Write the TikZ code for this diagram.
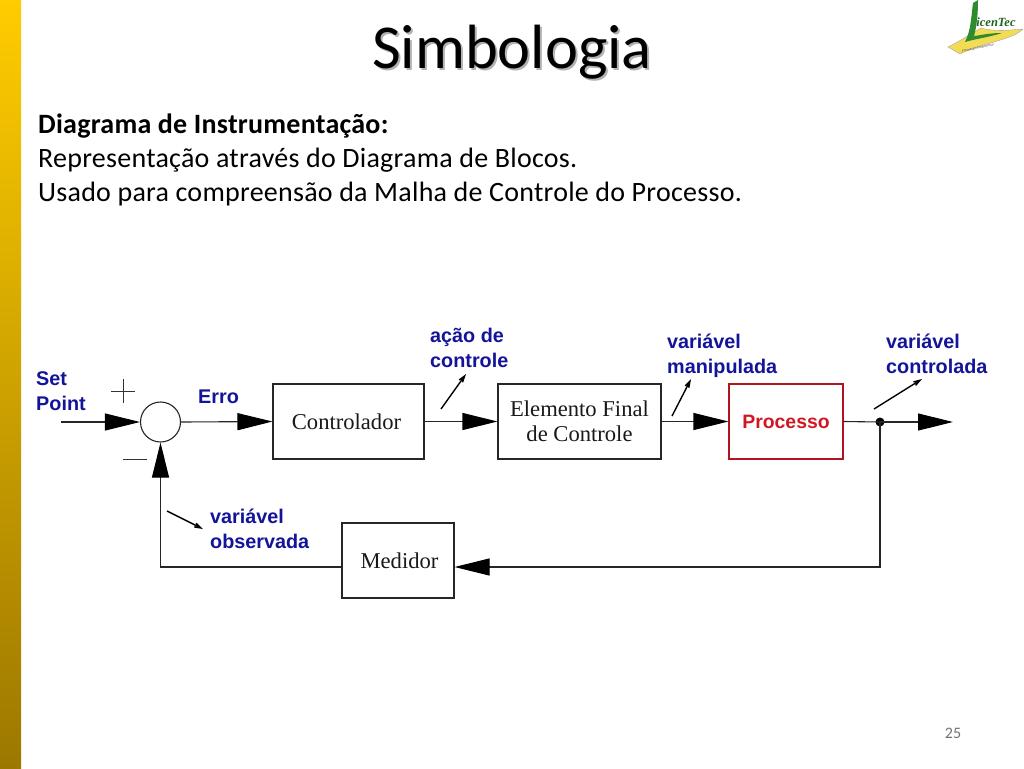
\documentclass[tikz,border=0pt]{standalone}
\usepackage{fontspec}
\setmainfont{Carlito}
\newfontfamily\bodyfont[LetterSpace=0.9]{Carlito}
\newfontfamily\lblfont{Liberation Sans}
\newfontfamily\boxfont{Liberation Serif}
\usetikzlibrary{arrows.meta,shadings,calc}
\definecolor{lblblue}{HTML}{14149A}
\definecolor{procred}{HTML}{D01825}
\definecolor{barTop}{HTML}{FFCC00}
\definecolor{barBot}{HTML}{9C7800}
\definecolor{logogreen}{HTML}{2E8B2E}
\definecolor{logoyellow}{HTML}{F3DC55}
\tikzset{
  blockbox/.style={draw=black!85,line width=1.1pt,minimum height=75pt,inner sep=0pt,align=center,font=\boxfont\fontsize{22.6}{25}\selectfont,text=black!90},
  sumcircle/.style={circle,draw=black!85,line width=1.1pt,minimum size=40pt,inner sep=0pt},
  bigarrow/.style={line width=1.1pt,draw=black!85,-{Triangle[length=35pt,width=17pt,color=black]}},
  plainline/.style={line width=1.1pt,draw=black!85},
  smallarrow/.style={line width=1.4pt,draw=black,-{Stealth[length=19pt,width=12pt,inset=13pt,color=black]}},
  sign/.style={line width=0.7pt,draw=black!80},
  lbl/.style={anchor=west,inner sep=0pt,text=lblblue,font=\lblfont\bfseries\fontsize{19.8}{25}\selectfont,align=left},
  bodytext/.style={anchor=west,inner sep=0pt,text=black,font=\bodyfont\fontsize{28}{30}\selectfont},
}
\begin{document}
\begin{tikzpicture}[x=1pt,y=-1pt]
\useasboundingbox (0,0) rectangle (1024,768);
\fill[white] (0,0) rectangle (1024,768);
\shade[top color=barTop,bottom color=barBot] (0,0) rectangle (21,768);
% title and text
\node[text=black!30,font=\fontsize{62.5}{70}\selectfont,inner sep=0pt] (titleshadow) at (514,54) {Simbologia};
\node[text=black,font=\fontsize{62.5}{70}\selectfont,inner sep=0pt] (title) at (512,52) {Simbologia};
\node[bodytext,font=\bodyfont\bfseries\fontsize{28}{30}\selectfont] (t1) at (38,126.5) {Diagrama de Instrumentação:};
\node[bodytext] (t2) at (38,160.5) {Representação através do Diagrama de Blocos.};
\node[bodytext] (t3) at (38,194.5) {Usado para compreensão da Malha de Controle do Processo.};
\node[text=black!55,font=\fontsize{16}{20}\selectfont,inner sep=0pt] (pg) at (953,733) {25};
% logo
\fill[logoyellow,draw=black!40,line width=0.3pt] (948,47) .. controls (962,40) and (972,33) .. (981,28) .. controls (995,32) and (1010,30) .. (1023,29) .. controls (1012,40) and (985,42) .. (960,54) -- cycle;
\fill[logogreen] (978,0) -- (973,3) .. controls (971,18) and (971,30) .. (965,42) .. controls (975,39) and (990,37) .. (1002,33) .. controls (990,33) and (982,35) .. (974,36) .. controls (977,25) and (978,13) .. (978,0) -- cycle;
\node[text=logogreen!70!black,font=\boxfont\bfseries\itshape\fontsize{12.5}{13}\selectfont,inner sep=0pt] (logotext) at (996,22) {icenTec};
\node[text=black!70,font=\fontsize{3.6}{4}\selectfont,inner sep=0pt,rotate=12] (logosub) at (978,48) {Formação Profissional};
% blocks
\node[sumcircle] (sum) at (160.5,422) {};
\node[blockbox,minimum width=151pt] (ctrl) at (348.5,421.5) {Controlador\hspace*{4pt}};
\node[blockbox,minimum width=163pt] (elem) at (579.5,421.5) {Elemento Final\\de Controle};
\node[blockbox,minimum width=114pt,draw=procred!85!black,text=procred,font=\lblfont\bfseries\fontsize{19.4}{22}\selectfont] (proc) at (786,421.5) {Processo};
\node[blockbox,minimum width=112pt] (med) at (398,560.5) {\hspace*{3pt}Medidor};
\node[circle,fill=black,minimum size=9pt,inner sep=0pt] (junc) at (880,422) {};
\coordinate (inp) at (61,422);
\coordinate (out) at (953,422);
\coordinate (fbr) at (880,567);
\coordinate (fbl) at (160.5,567);
% connectors
\draw[bigarrow] (inp) -- (sum.west);
\draw[bigarrow] (sum.east) -- (ctrl.west);
\draw[bigarrow] (ctrl.east) -- (elem.west);
\draw[bigarrow] (elem.east) -- (proc.west);
\draw[plainline] (proc.east) -- (junc.center);
\draw[bigarrow] (junc.center) -- (out);
\draw[bigarrow] (junc.center) -- (fbr) -- (med.east |- fbr);
\draw[bigarrow] (med.west |- fbl) -- (fbl) -- (sum.south);
% signs
\coordinate (pc) at (123,391);
\draw[sign] ($(pc)+(-12,0)$) -- ($(pc)+(12,0)$);
\draw[sign] ($(pc)+(0,-12)$) -- ($(pc)+(0,12)$);
\coordinate (mc) at (135,459);
\draw[sign] ($(mc)+(-12,0)$) -- ($(mc)+(12,0)$);
% small arrows
\coordinate (a1s) at (441,409); \coordinate (a1e) at (466,374);
\coordinate (a2s) at (672,416); \coordinate (a2e) at (691,379);
\coordinate (a3s) at (874,409); \coordinate (a3e) at (922,379);
\coordinate (a4s) at (167,511); \coordinate (a4e) at (203,529);
\draw[smallarrow] (a1s) -- (a1e);
\draw[smallarrow] (a2s) -- (a2e);
\draw[smallarrow] (a3s) -- (a3e);
\draw[smallarrow] (a4s) -- (a4e);
% labels
\node[lbl] (l1) at (36,391) {Set\\Point};
\node[lbl] (l2) at (198,397) {Erro};
\node[lbl] (l3) at (430,348) {ação de\\controle};
\node[lbl] (l4) at (667,355.5) {variável\\manipulada};
\node[lbl] (l5) at (886,354) {variável\\controlada};
\node[lbl] (l6) at (210,529) {variável\\observada};
\end{tikzpicture}
\end{document}
